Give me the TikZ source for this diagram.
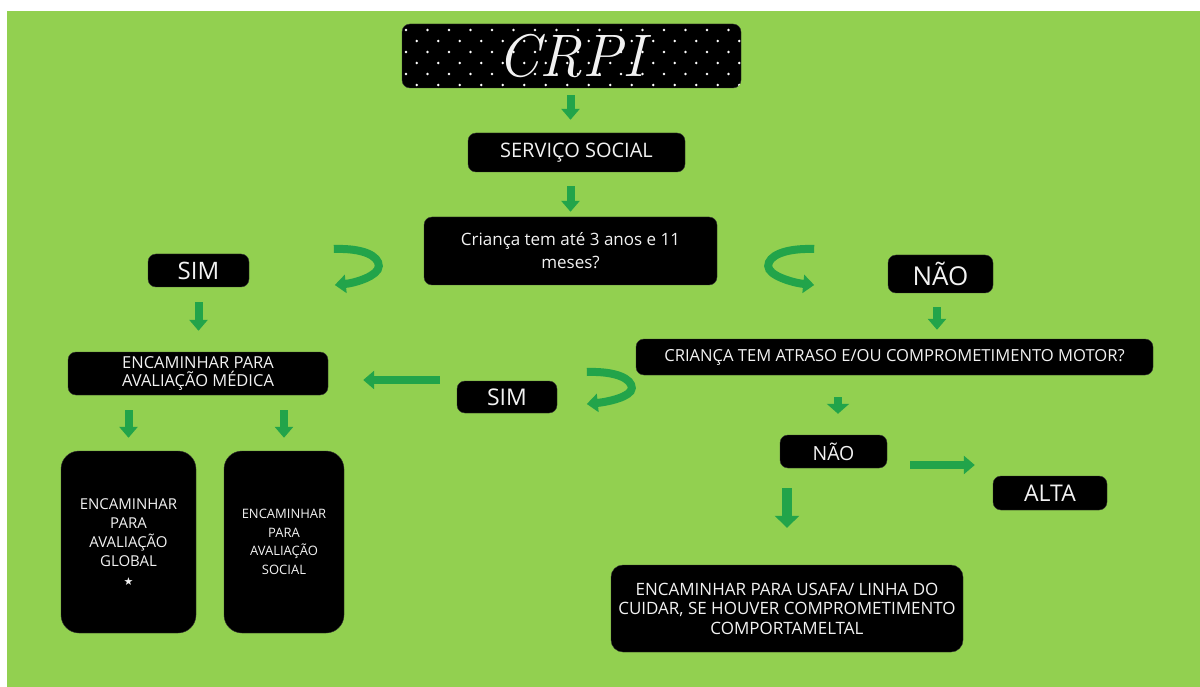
\documentclass[tikz,border=0pt]{standalone}
\usepackage{fontspec}
\newfontfamily\comic{Open Sans}
\newfontfamily\dejavu{DejaVu Sans}
\usetikzlibrary{arrows.meta,calc}
\definecolor{bggreen}{HTML}{92D050}
\definecolor{agreen}{HTML}{22A44A}
\definecolor{txt}{HTML}{F2F2F2}
\tikzset{
  box/.style={draw=black!80, fill=black, rounded corners=8pt, text=txt, align=center, inner sep=2pt},
  garrow/.style={draw=agreen, line width=8pt, -{Triangle[width=18pt,length=11pt]}},
  curvarrow/.style={draw=agreen, line width=8pt, -{Triangle[width=18pt,length=11pt]}},
}
\begin{document}
\begin{tikzpicture}[x=1pt,y=-1pt]
\useasboundingbox (0,0) rectangle (1200,687);
\fill[white] (0,0) rectangle (1200,687);
\fill[bggreen] (7,11) rectangle (1200,687);

% CRPI title box with dots
\node[box, minimum width=339pt, minimum height=64pt] (crpi) at (571.5,56) {};
\begin{scope}
  \clip[rounded corners=8pt] (crpi.south west) rectangle (crpi.north east);
  \foreach \r in {0,...,5} {
    \foreach \c in {0,...,16} {
      \pgfmathsetmacro{\xx}{406+\c*21.5+mod(\r,2)*10.75}
      \pgfmathsetmacro{\yy}{30+\r*11}
      \fill[white] (\xx,\yy) circle (1.3pt);
    }
  }
\end{scope}
\node[text=txt, font=\fontsize{60}{62}\selectfont\rmfamily\itshape] at (crpi.center) {CRPI};

\node[box, minimum width=217pt, minimum height=39pt, font=\comic\fontsize{20}{22}\selectfont] (serv) at (576.5,152.5) {SERVIÇO SOCIAL};
\node[box, minimum width=293pt, minimum height=68pt, font=\comic\fontsize{17}{23}\selectfont] (crianca) at (570.5,251) {Criança tem até 3 anos e 11\\meses?};
\node[box, minimum width=101pt, minimum height=33pt, font=\comic\fontsize{24}{26}\selectfont] (simA) at (198.5,270.5) {SIM};
\node[box, minimum width=105pt, minimum height=38pt, font=\comic\fontsize{26}{28}\selectfont] (naoA) at (940.5,274) {NÃO};
\node[box, minimum width=260pt, minimum height=43pt, font=\comic\fontsize{16.5}{18}\selectfont] (med) at (198,373.5) {ENCAMINHAR PARA\\AVALIAÇÃO MÉDICA};
\node[box, minimum width=517pt, minimum height=36pt, font=\comic\fontsize{16.6}{18}\selectfont] (atraso) at (894.5,357) {CRIANÇA TEM ATRASO E/OU COMPROMETIMENTO MOTOR?};
\node[box, minimum width=100pt, minimum height=32pt, font=\comic\fontsize{23}{24}\selectfont] (simB) at (507,397) {SIM};
\node[box, minimum width=135pt, minimum height=182pt, rounded corners=18pt, font=\comic\fontsize{15}{19}\selectfont] (glob) at (128.5,542) {ENCAMINHAR\\PARA\\AVALIAÇÃO\\GLOBAL\\{\dejavu\fontsize{11}{12}\selectfont ★}};
\node[box, minimum width=120pt, minimum height=182pt, rounded corners=18pt, font=\comic\fontsize{13}{18.5}\selectfont] (soc) at (284,542) {ENCAMINHAR\\PARA\\AVALIAÇÃO\\SOCIAL};
\node[box, minimum width=107pt, minimum height=33pt, font=\comic\fontsize{19.5}{21}\selectfont] (naoB) at (833.5,451.5) {NÃO};
\node[box, minimum width=114pt, minimum height=34pt, font=\comic\fontsize{23}{24}\selectfont] (alta) at (1050,493) {ALTA};
\node[box, minimum width=352pt, minimum height=87pt, rounded corners=12pt, font=\comic\fontsize{17}{19.5}\selectfont] (usafa) at (787,608.5) {ENCAMINHAR PARA USAFA/ LINHA DO\\CUIDAR, SE HOUVER COMPROMETIMENTO\\COMPORTAMELTAL};

% straight arrows
\draw[garrow, shorten <=7pt, shorten >=13pt] (crpi.south -| crianca.north) -- (serv.north -| crianca.north);
\draw[garrow, shorten <=14pt, shorten >=5pt] (serv.south -| crianca.north) -- (crianca.north);
\draw[garrow, shorten <=15pt, shorten >=21pt] (simA.south) -- (simA.south |- med.north);
\draw[garrow, shorten <=14pt, shorten >=9pt] ([xshift=-3.5pt]naoA.south) -- ([xshift=-3.5pt]naoA.south |- atraso.north);
\draw[garrow, shorten <=15pt, shorten >=13pt] (glob.north |- med.south) -- (glob.north);
\draw[garrow, shorten <=15pt, shorten >=13pt] (soc.north |- med.south) -- (soc.north);
\draw[draw=agreen, line width=8pt, -{Triangle[width=22pt,length=10pt]}, shorten <=22pt, shorten >=21pt] ([xshift=4.5pt]naoB.north |- atraso.south) -- ([xshift=4.5pt]naoB.north);
\coordinate (sb) at ($(simB.west)+(0,-17)$);
\draw[garrow, shorten <=17pt, shorten >=35pt] (sb) -- (sb -| med.east);
\coordinate (nb) at ($(naoB.east)+(0,13.5)$);
\draw[garrow, shorten <=23pt, shorten >=18pt] (nb) -- (nb -| alta.west);
\draw[draw=agreen, line width=10pt, -{Triangle[width=24pt,length=12pt]}, shorten <=20pt, shorten >=37pt] (naoB.south -| usafa.north) -- (usafa.north);

% curved arrows
\coordinate (cl1) at ($(crianca.west)+(-90,-2)$);
\coordinate (clm) at ($(crianca.west)+(-45,15)$);
\coordinate (cl2) at ($(crianca.west)+(-89,34)$);
\draw[curvarrow] (cl1) .. controls +(30,-1) and +(0,-10) .. (clm) .. controls +(0,10) and +(20,-2) .. (cl2);
\coordinate (cr1) at ($(crianca.east)+(97,-2)$);
\coordinate (crm) at ($(crianca.east)+(51,15)$);
\coordinate (cr2) at ($(crianca.east)+(97,34)$);
\draw[curvarrow] (cr1) .. controls +(-30,-1) and +(0,-10) .. (crm) .. controls +(0,10) and +(-20,-2) .. (cr2);
\coordinate (cm1) at ($(atraso.west)+(-49,15)$);
\coordinate (cmm) at ($(atraso.west)+(-4,31)$);
\coordinate (cm2) at ($(atraso.west)+(-49,47)$);
\draw[curvarrow] (cm1) .. controls +(30,-1) and +(0,-9) .. (cmm) .. controls +(0,9) and +(20,-2) .. (cm2);
\end{tikzpicture}
\end{document}
